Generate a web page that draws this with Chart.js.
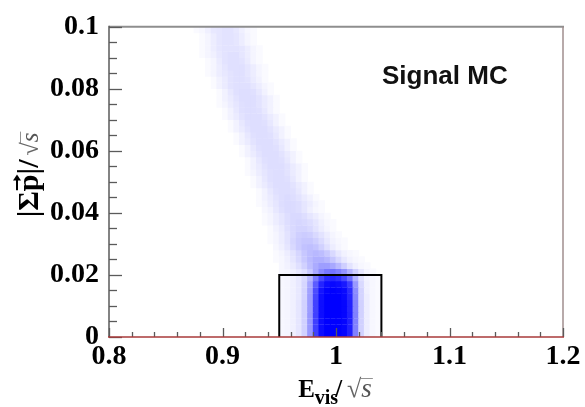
<!DOCTYPE html>
<html>
<head>
<meta charset="utf-8">
<script src="https://cdn.jsdelivr.net/npm/chart.js@4.4.1/dist/chart.umd.min.js"></script>
<style>
  html, body { margin: 0; padding: 0; background: #fff; }
  #wrap { width: 585px; height: 407px; position: relative; }
</style>
</head>
<body>
<div id="wrap"><canvas id="c" width="585" height="407"></canvas></div>
<script>
// Axis ranges and tick labels
const xRange = [0.8, 1.2];
const yRange = [0, 0.1];
const xTickValues = [0.8, 0.9, 1.0, 1.1, 1.2];
const xTickLabels = ['0.8', '0.9', '1', '1.1', '1.2'];
const yTickValues = [0, 0.02, 0.04, 0.06, 0.08, 0.1];
const yTickLabels = ['0', '0.02', '0.04', '0.06', '0.08', '0.1'];

// Event density map: one row per y bin, cells of width binWidth starting at rowX0.
// Levels are filled fraction in percent.
const binWidth = 0.005;
const rowStep = 0.002;
const rowY = [
  0.001, 0.003, 0.005, 0.007, 0.009, 0.011, 0.013, 0.015, 0.017, 0.019,
  0.021, 0.023, 0.025, 0.027, 0.029, 0.031, 0.033, 0.035, 0.037, 0.039,
  0.041, 0.043, 0.045, 0.047, 0.049, 0.051, 0.053, 0.055, 0.057, 0.059,
  0.061, 0.063, 0.065, 0.067, 0.069, 0.071, 0.073, 0.075, 0.077, 0.079,
  0.081, 0.083, 0.085, 0.087, 0.089, 0.091, 0.093, 0.095, 0.097, 0.099
];
const rowX0 = [
  0.9525, 0.9525, 0.9525, 0.9525, 0.9525, 0.9525, 0.9525, 0.9525, 0.9525, 0.9525,
  0.9525, 0.9525, 0.9475, 0.9475, 0.9475, 0.9425, 0.9425, 0.9425, 0.9375, 0.9375,
  0.9375, 0.9325, 0.9325, 0.9325, 0.9275, 0.9275, 0.9225, 0.9225, 0.9225, 0.9175,
  0.9175, 0.9125, 0.9125, 0.9075, 0.9075, 0.9025, 0.9025, 0.8975, 0.8975, 0.8975,
  0.8925, 0.8925, 0.8875, 0.8875, 0.8875, 0.8825, 0.8825, 0.8825, 0.8825, 0.8775
];
const rowLevels = [
  [3,4,6,10,18,40,75,95,100,100,100,98,88,50,18,7,3,2],
  [3,4,6,10,18,40,75,95,100,100,100,98,88,50,18,7,3,2],
  [3,4,6,10,18,40,75,95,100,100,100,98,88,50,18,7,3,2],
  [3,4,6,10,18,40,75,95,100,100,100,98,88,50,18,7,3,2],
  [3,4,6,10,18,39,74,95,100,100,100,98,87,49,18,7,3,2],
  [3,4,6,10,18,39,74,95,100,100,100,98,87,49,18,7,3,2],
  [3,4,6,9,17,38,72,94,100,100,100,97,85,47,17,7,3,2],
  [3,4,6,9,17,37,70,92,99,100,99,96,83,45,17,6,3,2],
  [3,4,6,9,16,34,64,86,95,97,95,90,76,40,15,6,3,2],
  [3,4,6,9,15,28,52,72,84,86,82,72,56,30,12,5,3,2],
  [3,4,6,9,13,21,34,46,53,55,50,42,30,18,9,4,2],
  [3,5,8,12,18,26,33,38,38,34,27,19,11,6,3,2],
  [2,3,6,10,15,21,27,31,31,28,22,15,9,5,3,2],
  [2,4,7,11,16,22,26,28,26,21,15,9,5,3,2],
  [3,6,10,15,20,24,25,23,18,12,7,4,2],
  [2,4,7,11,16,20,22,22,19,14,9,5,3,2],
  [2,4,7,11,15,19,20,19,15,11,7,4,2],
  [2,5,8,12,15,17,17,15,11,7,4,2],
  [2,4,7,10,13,15,16,15,13,10,6,3,2],
  [2,4,7,10,13,15,15,13,10,7,4,2],
  [3,5,9,12,14,14,13,10,6,3,2],
  [2,4,7,10,13,14,14,13,10,7,4,2],
  [2,5,8,11,13,14,13,11,8,5,2],
  [2,5,9,12,13,13,12,9,5,2],
  [2,5,8,11,13,13,13,11,8,5,2],
  [2,5,9,12,13,13,12,9,5,2],
  [2,4,7,10,12,13,13,11,8,5,2],
  [2,5,8,11,13,13,13,11,8,5,2],
  [2,5,9,12,13,13,12,9,5,2],
  [2,5,8,11,13,13,13,11,8,5,2],
  [2,5,9,12,13,13,12,9,5,2],
  [2,5,8,11,13,13,13,11,8,5,2],
  [2,5,9,12,13,13,12,9,5,2],
  [2,5,8,11,13,13,13,11,8,5,2],
  [2,5,9,12,13,13,12,9,5,2],
  [2,5,8,11,13,13,13,11,8,5,2],
  [2,5,9,12,13,13,12,9,5,2],
  [2,4,7,10,12,13,13,11,8,5,2],
  [2,5,8,11,13,13,13,11,8,5,2],
  [2,5,9,12,13,13,12,9,5,2],
  [2,5,8,11,12,12,12,10,7,4,2],
  [2,5,8,11,12,12,11,8,5,2],
  [2,4,7,9,11,12,12,10,7,4,2],
  [2,4,7,10,12,12,12,10,7,4,2],
  [2,4,8,11,12,12,11,8,4,2],
  [2,4,6,9,11,12,12,10,7,4,2],
  [2,4,7,10,11,11,11,10,7,4,2],
  [2,4,7,10,11,11,10,7,4,2],
  [2,4,7,10,11,11,10,7,4,2],
  [2,3,6,9,10,11,11,9,6,3,2]
];

// Selection window
const boxX = [0.95, 1.04];
const boxTop = 0.02;
const panelLabel = 'Signal MC';

// Build the cell list for the scatter dataset
const cells = [];
rowY.forEach((y, i) => {
  rowLevels[i].forEach((v, j) => {
    cells.push({ x: rowX0[i] + j * binWidth, y: y, v: v });
  });
});

const boxPath = [
  { x: boxX[0], y: 0 }, { x: boxX[0], y: boxTop },
  { x: boxX[1], y: boxTop }, { x: boxX[1], y: 0 }
];

const SERIF = '"Liberation Serif", "Times New Roman", serif';
const SANS = '"Liberation Sans", Arial, sans-serif';

function cellRadius(ctx) {
  const ch = ctx.chart;
  if (!ch.scales || !ch.scales.y) return 4;
  const h = Math.abs(ch.scales.y.getPixelForValue(rowStep) - ch.scales.y.getPixelForValue(0));
  const w = Math.abs(ch.scales.x.getPixelForValue(binWidth) - ch.scales.x.getPixelForValue(0));
  const side = Math.max(h, w) + 0.4;
  return side / 2 / Math.SQRT1_2;
}

function cellColor(ctx) {
  const v = ctx.raw ? ctx.raw.v / 100 : 0;
  const c = Math.round(255 * (1 - v));
  return 'rgb(' + c + ',' + c + ',255)';
}

// Frame, inward tick marks
const framePlugin = {
  id: 'frame',
  afterDatasetsDraw(chart) {
    const { ctx, chartArea: a, scales } = chart;
    const xs = scales.x, ys = scales.y;
    ctx.save();
    ctx.lineCap = 'butt';
    // top
    ctx.strokeStyle = '#8e8e8e'; ctx.lineWidth = 2;
    ctx.beginPath(); ctx.moveTo(a.left, a.top); ctx.lineTo(a.right + 1, a.top); ctx.stroke();
    // right
    ctx.strokeStyle = '#a08e8e'; ctx.lineWidth = 1.5;
    ctx.beginPath(); ctx.moveTo(a.right, a.top); ctx.lineTo(a.right, a.bottom); ctx.stroke();
    // left
    ctx.strokeStyle = '#5a5a5a'; ctx.lineWidth = 1.5;
    ctx.beginPath(); ctx.moveTo(a.left, a.top - 1); ctx.lineTo(a.left, a.bottom); ctx.stroke();
    // y ticks every 0.005, major every 0.02
    ctx.strokeStyle = '#5a5a5a'; ctx.lineWidth = 1.3;
    for (let k = 0; k <= 20; k++) {
      const py = Math.round(ys.getPixelForValue(k * 0.005)) + 0.5;
      const len = (k % 4 === 0) ? 13 : 8;
      ctx.beginPath(); ctx.moveTo(a.left, py); ctx.lineTo(a.left + len, py); ctx.stroke();
    }
    // x ticks every 0.02, major every 0.1
    for (let k = 0; k <= 20; k++) {
      const px = Math.round(xs.getPixelForValue(0.8 + k * 0.02)) + 0.5;
      const len = (k % 5 === 0) ? 9 : 5;
      ctx.beginPath(); ctx.moveTo(px, a.bottom); ctx.lineTo(px, a.bottom - len); ctx.stroke();
    }
    // bottom
    ctx.strokeStyle = '#a83a3a'; ctx.lineWidth = 1.6;
    ctx.beginPath(); ctx.moveTo(a.left - 1, a.bottom); ctx.lineTo(a.right + 1, a.bottom); ctx.stroke();
    ctx.restore();
  }
};

function drawParts(ctx, parts, x, y) {
  let cx = x;
  const pos = [];
  parts.forEach(p => {
    ctx.font = p.font;
    ctx.fillStyle = p.color || '#000';
    ctx.fillText(p.text, cx, y + (p.dy || 0));
    const w = ctx.measureText(p.text).width;
    pos.push({ x: cx, w: w });
    cx += w + (p.gap || 0);
  });
  return pos;
}
function partsWidth(ctx, parts) {
  let t = 0;
  parts.forEach(p => { ctx.font = p.font; t += ctx.measureText(p.text).width + (p.gap || 0); });
  return t;
}

// Axis titles and panel label
const titlePlugin = {
  id: 'titles',
  afterDraw(chart) {
    const { ctx, chartArea: a } = chart;
    ctx.save();
    ctx.textBaseline = 'alphabetic';
    ctx.textAlign = 'left';

    // x title: E_vis / sqrt(s)
    const xParts = [
      { text: 'E', font: 'bold 25px ' + SERIF },
      { text: 'vis', font: 'bold 20px ' + SERIF, dy: 7, gap: -3 },
      { text: '/', font: 'bold 25px ' + SERIF, gap: 5 },
      { text: '\u221A', font: '26px ' + SERIF, color: '#666' },
      { text: 's', font: 'italic 27px ' + SERIF, color: '#555' }
    ];
    const xw = partsWidth(ctx, xParts);
    const xpos = drawParts(ctx, xParts, 335 - xw / 2, 397);
    ctx.strokeStyle = '#777'; ctx.lineWidth = 0.8;
    const sq = xpos[4];
    ctx.beginPath(); ctx.moveTo(sq.x - 1, 378.5); ctx.lineTo(sq.x + sq.w + 1, 378.5); ctx.stroke();

    // y title: |Σp|/ sqrt(s), rotated
    ctx.translate(38, 175);
    ctx.rotate(-Math.PI / 2);
    const yParts = [
      { text: '|\u03A3', font: 'bold 30px ' + SERIF },
      { text: 'p', font: 'bold 30px ' + SERIF },
      { text: '|/', font: 'bold 30px ' + SERIF, gap: 4 },
      { text: '\u221A', font: '24px ' + SERIF, color: '#666' },
      { text: 's', font: 'italic 25px ' + SERIF, color: '#555' }
    ];
    const yw = partsWidth(ctx, yParts);
    const ypos = drawParts(ctx, yParts, -yw / 2, 0);
    // arrow over p
    const pp = ypos[1];
    ctx.strokeStyle = '#000'; ctx.fillStyle = '#000'; ctx.lineWidth = 2;
    const ay = -21;
    ctx.beginPath(); ctx.moveTo(pp.x + 1, ay); ctx.lineTo(pp.x + pp.w - 4, ay); ctx.stroke();
    ctx.beginPath();
    ctx.moveTo(pp.x + pp.w, ay); ctx.lineTo(pp.x + pp.w - 6, ay - 4); ctx.lineTo(pp.x + pp.w - 6, ay + 4);
    ctx.closePath(); ctx.fill();
    const s2 = ypos[4];
    ctx.strokeStyle = '#777'; ctx.lineWidth = 0.8;
    ctx.beginPath(); ctx.moveTo(s2.x - 1, -17.5); ctx.lineTo(s2.x + s2.w + 1, -17.5); ctx.stroke();
    ctx.restore();

    // panel label
    ctx.save();
    ctx.font = 'bold 26px ' + SANS;
    ctx.fillStyle = '#111';
    ctx.textBaseline = 'alphabetic';
    ctx.fillText(panelLabel, a.left + 273, a.top + 57);
    ctx.restore();
  }
};

new Chart(document.getElementById('c'), {
  type: 'scatter',
  data: {
    datasets: [
      {
        label: 'events',
        data: cells,
        pointStyle: 'rect',
        pointRadius: cellRadius,
        pointHoverRadius: cellRadius,
        pointBorderWidth: 0,
        pointBackgroundColor: cellColor,
        pointBorderColor: 'rgba(0,0,0,0)',
        order: 2
      },
      {
        label: 'window',
        data: boxPath,
        showLine: true,
        borderColor: '#000',
        borderWidth: 2,
        pointRadius: 0,
        fill: false,
        tension: 0,
        order: 1
      }
    ]
  },
  options: {
    responsive: false,
    animation: false,
    events: [],
    layout: { padding: { top: 20, right: 22, left: 0, bottom: 0 } },
    plugins: { legend: { display: false }, tooltip: { enabled: false } },
    scales: {
      x: {
        type: 'linear',
        min: xRange[0], max: xRange[1],
        afterBuildTicks: s => { s.ticks = xTickValues.map(v => ({ value: v })); },
        afterFit: s => { s.height = 70; },
        grid: { display: false, drawTicks: false },
        border: { display: false },
        ticks: {
          callback: (v, i) => xTickLabels[i],
          color: '#000',
          padding: 3,
          maxRotation: 0,
          font: { family: SERIF, weight: 'bold', size: 28 }
        }
      },
      y: {
        type: 'linear',
        min: yRange[0], max: yRange[1],
        afterBuildTicks: s => { s.ticks = yTickValues.map(v => ({ value: v })); },
        afterFit: s => { s.width = 109; },
        grid: { display: false, drawTicks: false },
        border: { display: false },
        ticks: {
          callback: (v, i) => yTickLabels[i],
          color: '#000',
          padding: 10,
          font: { family: SERIF, weight: 'bold', size: 28 }
        }
      }
    }
  },
  plugins: [framePlugin, titlePlugin]
});
</script>
</body>
</html>
